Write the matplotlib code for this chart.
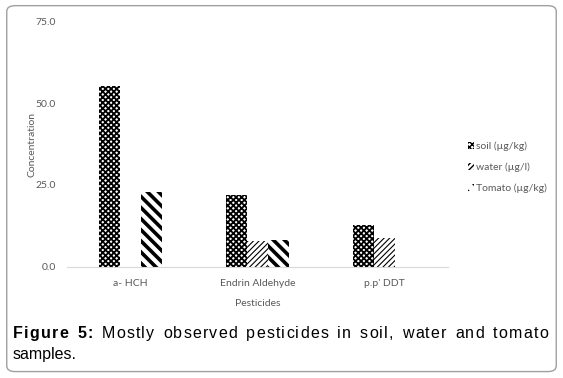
import matplotlib.pyplot as plt
from matplotlib.patches import FancyBboxPatch
import numpy as np

# data
pesticides = ["a- HCH", "Endrin Aldehyde", "p.p' DDT"]
soil = [55.2, 22.0, 12.8]
water = [0.0, 7.9, 8.8]
tomato = [22.9, 8.2, 0.0]
series_labels = ["soil (µg/kg)", "water (µg/l)", "Tomato (µg/kg)"]
yticks = [0, 25, 50, 75]
caption_bold = "Figure 5:"
caption_line1 = " Mostly observed pesticides in soil, water and tomato"
caption_line2 = "samples."

grey = "#595959"
font = "Lato"
fs = 7.5

fig = plt.figure(figsize=(5.63, 3.78), dpi=100)
ax = fig.add_axes([0.119, 0.294, 0.677, 0.650])

x = np.arange(len(pesticides))
w = 0.167

with plt.rc_context({"hatch.linewidth": 1.3}):
    b1 = ax.bar(x - w, soil, w, color="white", edgecolor="black",
                hatch="xxxxxx", linewidth=0, label=series_labels[0])
with plt.rc_context({"hatch.linewidth": 0.8}):
    b2 = ax.bar(x, water, w, color="white", edgecolor="black",
                hatch="//////", linewidth=0, label=series_labels[1])
with plt.rc_context({"hatch.linewidth": 2.6}):
    b3 = ax.bar(x + w, tomato, w, color="white", edgecolor="black",
                hatch="\\\\\\", linewidth=0, label=series_labels[2])

ax.set_xlim(-0.5, len(pesticides) - 0.5)
ax.set_ylim(0, 75)
ax.set_yticks(yticks)
ax.set_yticklabels([f"{v:.1f}" for v in yticks], fontsize=fs, color=grey, family=font)
ax.set_xticks(x)
ax.set_xticklabels(pesticides, fontsize=fs, color=grey, family=font)
ax.tick_params(length=0, pad=9)
ax.tick_params(axis="y", pad=8)
for s in ["top", "right", "left"]:
    ax.spines[s].set_visible(False)
ax.spines["bottom"].set_color("#d9d9d9")
ax.set_xlabel("Pesticides", fontsize=fs, color=grey, family=font, labelpad=8)
ax.set_ylabel("Concentration", fontsize=fs, color=grey, family=font, labelpad=-1)

leg = fig.legend(handles=[b1, b2, b3], labels=series_labels, loc="upper left",
                 bbox_to_anchor=(0.815, 0.65), frameon=False, handlelength=0.55,
                 handleheight=0.65, handletextpad=0.15, labelspacing=1.1,
                 prop={"family": font, "size": fs})
for t in leg.get_texts():
    t.set_color(grey)

# outer rounded frame
frame = FancyBboxPatch((0.012, 0.017), 0.976, 0.968, boxstyle="round,pad=0,rounding_size=0.015",
                       transform=fig.transFigure, facecolor="none", edgecolor="#a0a0a0",
                       linewidth=1.0)
fig.patches.append(frame)

# caption: first line justified (a little letter spacing, rest in word gaps)
cap_fs = 11.5
cap_font = "Liberation Sans"
left_px, right_px = 13, 548
letter_extra = 1.2
W, H = fig.get_size_inches() * fig.dpi
renderer = fig.canvas.get_renderer()


def text_width(s, weight):
    t = fig.text(0, 0, s, fontsize=cap_fs, family=cap_font, fontweight=weight)
    wd = t.get_window_extent(renderer).width
    t.remove()
    return wd


chars = [(c, "bold") for c in caption_bold] + [(c, "normal") for c in caption_line1]
widths = []
for c, wt in chars:
    if c == " ":
        widths.append(text_width("a a", wt) - text_width("aa", wt))
    else:
        widths.append(text_width(c, wt))
n_gaps = len(chars) - 1
n_spaces = sum(1 for c, _ in chars if c == " ")
space_extra = (right_px - left_px - sum(widths) - letter_extra * (n_gaps - 2 * n_spaces)) / n_spaces
pos = left_px
y1 = 1 - 338 / H
for i, ((c, wt), wd) in enumerate(zip(chars, widths)):
    if c == " ":
        pos += wd + space_extra
        continue
    fig.text(pos / W, y1, c, fontsize=cap_fs, family=cap_font, fontweight=wt)
    nxt = chars[i + 1][0] if i + 1 < len(chars) else " "
    pos += wd + (letter_extra if nxt != " " else 0)
fig.text(left_px / W, 1 - 359 / H, caption_line2, fontsize=cap_fs, family=cap_font)

fig.savefig("out.png", dpi=100)
